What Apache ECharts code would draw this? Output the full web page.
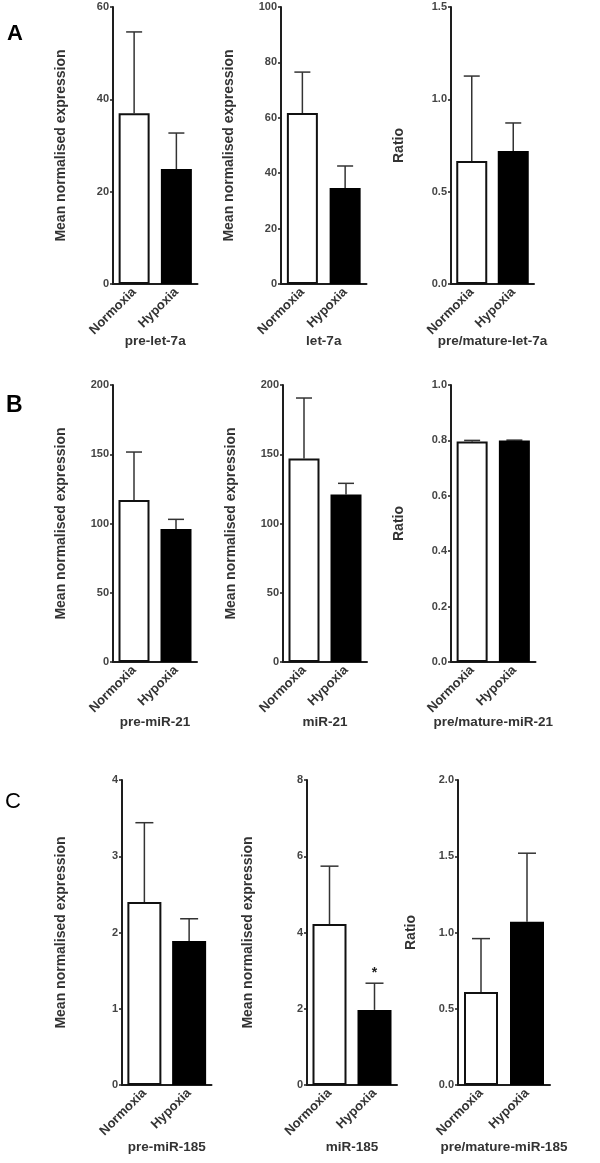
<!DOCTYPE html>
<html>
<head>
<meta charset="utf-8">
<script src="https://cdn.jsdelivr.net/npm/echarts@6/dist/echarts.min.js"></script>
<style>
html,body{margin:0;padding:0;background:#fff;}
#chart{width:600px;height:1163px;}
</style>
</head>
<body>
<div id="chart"></div>
<script>
// ---- data ----
const categories = ['Normoxia', 'Hypoxia'];

const preLet7aMean = [37.0, 24.9];
const preLet7aErr  = [17.6, 7.8];
const let7aMean    = [61.7, 34.7];
const let7aErr     = [14.8, 7.9];
const ratioLet7aMean = [0.666, 0.72];
const ratioLet7aErr  = [0.46, 0.152];

const preMiR21Mean = [117, 96];
const preMiR21Err  = [34.6, 7];
const miR21Mean    = [147, 121];
const miR21Err     = [43.6, 8];
const ratioMiR21Mean = [0.796, 0.80];
const ratioMiR21Err  = [0.004, 0.001];

const preMiR185Mean = [2.40, 1.89];
const preMiR185Err  = [1.04, 0.29];
const miR185Mean    = [4.22, 1.97];
const miR185Err     = [1.52, 0.70];
const miR185Sig     = ['', '*'];
const ratioMiR185Mean = [0.61, 1.07];
const ratioMiR185Err  = [0.35, 0.45];

const yTitleExpr = 'Mean normalised expression';
const yTitleRatio = 'Ratio';

// ---- panels (layout) ----
const panels = [
  {name:'pre-let-7a', mean:preLet7aMean, err:preLet7aErr, max:60, interval:20, dec:0, yName:yTitleExpr, left:113, width:84.5, top:7, height:277, barW:31, cap:8, nameGap:45, xGap:50},
  {name:'let-7a', mean:let7aMean, err:let7aErr, max:100, interval:20, dec:0, yName:yTitleExpr, left:281, width:85.5, top:7, height:277, barW:31, cap:8, nameGap:45, xGap:50},
  {name:'pre/mature-let-7a', mean:ratioLet7aMean, err:ratioLet7aErr, max:1.5, interval:0.5, dec:1, yName:yTitleRatio, left:451, width:83, top:7, height:277, barW:31, cap:8, nameGap:45, xGap:50},
  {name:'pre-miR-21', mean:preMiR21Mean, err:preMiR21Err, max:200, interval:50, dec:0, yName:yTitleExpr, left:113, width:84, top:385, height:277, barW:31, cap:8, nameGap:45, xGap:53},
  {name:'miR-21', mean:miR21Mean, err:miR21Err, max:200, interval:50, dec:0, yName:yTitleExpr, left:283, width:84, top:385, height:277, barW:31, cap:8, nameGap:45, xGap:53},
  {name:'pre/mature-miR-21', mean:ratioMiR21Mean, err:ratioMiR21Err, max:1.0, interval:0.2, dec:1, yName:yTitleRatio, left:451, width:84.5, top:385, height:277, barW:31, cap:8, nameGap:45, xGap:53},
  {name:'pre-miR-185', mean:preMiR185Mean, err:preMiR185Err, max:4, interval:1, dec:0, yName:yTitleExpr, left:122, width:89.5, top:780, height:305, barW:34, cap:9, nameGap:54, xGap:55},
  {name:'miR-185', mean:miR185Mean, err:miR185Err, sig:miR185Sig, max:8, interval:2, dec:0, yName:yTitleExpr, left:307, width:90, top:780, height:305, barW:34, cap:9, nameGap:52, xGap:55},
  {name:'pre/mature-miR-185', mean:ratioMiR185Mean, err:ratioMiR185Err, max:2.0, interval:0.5, dec:1, yName:yTitleRatio, left:458, width:92, top:780, height:305, barW:34, cap:9, nameGap:40, xGap:55}
];

const FONT = '"Liberation Sans", Arial, sans-serif';
const AXIS_COLOR = '#1e1e1e';
const TEXT_COLOR = '#333';

const grid = [], xAxis = [], yAxis = [], series = [];
panels.forEach((p, i) => {
  grid.push({left:p.left, top:p.top, width:p.width, height:p.height, containLabel:false});
  xAxis.push({
    type:'category', gridIndex:i, data:categories, boundaryGap:true,
    name:p.name, nameLocation:'middle', nameGap:p.xGap, nameMoveOverlap:false,
    nameTextStyle:{fontFamily:FONT, fontWeight:'bold', fontSize:13.5, color:TEXT_COLOR},
    axisLine:{lineStyle:{color:AXIS_COLOR, width:2}},
    axisTick:{alignWithLabel:true, length:4, lineStyle:{color:AXIS_COLOR, width:1.5}},
    axisLabel:{rotate:45, margin:6, fontFamily:FONT, fontWeight:'bold', fontSize:13, color:TEXT_COLOR},
    splitLine:{show:false}
  });
  yAxis.push({
    type:'value', gridIndex:i, min:0, max:p.max, interval:p.interval,
    name:p.yName, nameLocation:'middle', nameGap:p.nameGap, nameMoveOverlap:false,
    nameTextStyle:{fontFamily:FONT, fontWeight:'bold', fontSize:14, color:TEXT_COLOR},
    axisLine:{show:true, lineStyle:{color:AXIS_COLOR, width:2}},
    axisTick:{show:true, length:3, lineStyle:{color:AXIS_COLOR, width:1.5}},
    axisLabel:{margin:4, fontFamily:FONT, fontWeight:'bold', fontSize:11, color:'#444',
      formatter:(v)=>v.toFixed(p.dec)},
    splitLine:{show:false}
  });
  series.push({
    type:'bar', xAxisIndex:i, yAxisIndex:i, barWidth:p.barW, silent:true,
    data:p.mean.map((v, k) => ({
      value:v,
      itemStyle: k === 0
        ? {color:'#ffffff', borderColor:'#111', borderWidth:2}
        : {color:'#000000', borderColor:'#000', borderWidth:2}
    })),
    z:2
  });
  const errData = p.mean.map((v, k) => [k, v, p.err[k], p.sig ? p.sig[k] : '']);
  series.push({
    type:'custom', xAxisIndex:i, yAxisIndex:i, silent:true, z:1,
    encode:{x:0, y:1},
    data:errData,
    renderItem:(params, api) => {
      const k = api.value(0), m = api.value(1), e = api.value(2);
      const base = api.coord([k, m]);
      const top = api.coord([k, m + e]);
      const cap = p.cap;
      const style = {stroke:'#333', lineWidth:1.5};
      const children = [
        {type:'line', shape:{x1:base[0], y1:base[1], x2:top[0], y2:top[1]}, style},
        {type:'line', shape:{x1:top[0]-cap, y1:top[1], x2:top[0]+cap, y2:top[1]}, style}
      ];
      const sig = errData[params.dataIndex][3];
      if (sig) {
        children.push({type:'text', x:top[0], y:top[1]-3,
          style:{text:sig, fontFamily:FONT, fontWeight:'bold', fontSize:14, fill:'#222', align:'center', verticalAlign:'bottom'}});
      }
      return {type:'group', children};
    }
  });
});

const title = [
  {text:'A', left:7, top:23, padding:0, textStyle:{fontFamily:FONT, fontWeight:'bold', fontSize:22, color:'#000'}},
  {text:'B', left:6, top:394, padding:0, textStyle:{fontFamily:FONT, fontWeight:'bold', fontSize:23, color:'#000'}},
  {text:'C', left:5, top:791, padding:0, textStyle:{fontFamily:FONT, fontWeight:'normal', fontSize:22, color:'#000'}}
];

const chart = echarts.init(document.getElementById('chart'), null, {renderer:'canvas'});
chart.setOption({animation:false, backgroundColor:'#fff', title, grid, xAxis, yAxis, series});
</script>
</body>
</html>
